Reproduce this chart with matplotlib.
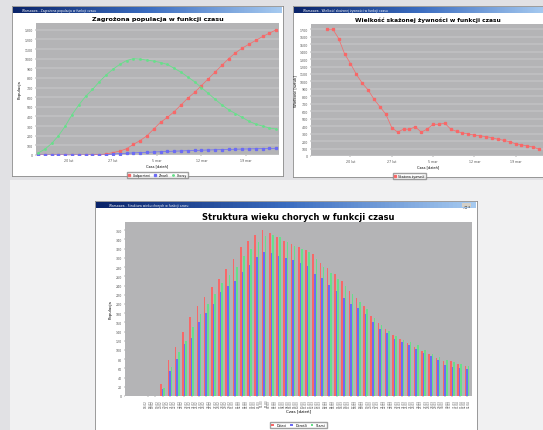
import numpy as np
import matplotlib.pyplot as plt
from matplotlib.colors import LinearSegmentedColormap

W, H = 543, 431

# ---------- data: top-left chart (Zagrozona populacja)
odporni = [0, 0, 0, 0, 0, 0, 0, 0, 2, 5, 10, 25, 40, 65, 110, 150, 200, 270,
           340, 390, 450, 520, 590, 650, 720, 790, 860, 930, 1000, 1060, 1110,
           1150, 1190, 1230, 1265, 1300]
zmarli = [0, 0, 0, 0, 0, 0, 0, 0, 0, 0, 0, 10, 15, 18, 22, 25, 28, 31, 34, 37,
          40, 42, 45, 47, 50, 52, 54, 56, 58, 60, 62, 63, 65, 66, 68, 70]
chorzy = [20, 60, 120, 200, 300, 420, 520, 610, 680, 760, 830, 890, 940, 980,
          1000, 995, 985, 975, 960, 940, 900, 860, 810, 760, 700, 640, 580, 520,
          470, 430, 390, 350, 320, 300, 280, 270]
ticks1 = ["20 lut", "27 lut", "5 mar", "12 mar", "19 mar"]

# ---------- data: top-right chart (Wielkosc skazonej zywnosci)
zywnosc = [1700, 1700, 1575, 1370, 1240, 1095, 975, 885, 760, 660, 560, 380,
           320, 360, 360, 390, 320, 360, 425, 425, 440, 360, 330, 310, 295, 280,
           270, 260, 245, 225, 210, 190, 165, 150, 135, 120, 90]
ticks2 = ["20 lut", "27 lut", "5 mar", "12 mar", "19 mar"]

# ---------- data: bottom chart (Struktura wieku chorych)
kat_start = ["18-02", "19-02", "20-02", "21-02", "22-02", "23-02", "24-02",
             "25-02", "26-02", "27-02", "28-02", "29-02", "01-03", "02-03",
             "03-03", "04-03", "05-03", "06-03", "07-03", "08-03", "09-03",
             "10-03", "11-03", "12-03", "13-03", "14-03", "15-03", "16-03",
             "17-03", "18-03", "19-03", "20-03", "21-03", "22-03", "23-03",
             "24-03", "25-03", "26-03", "27-03", "28-03", "29-03", "30-03",
             "31-03", "01-04", "02-04"]
grupa1 = [0, 0, 25, 78, 106, 139, 172, 196, 215, 236, 255, 275, 298, 323, 337,
          349, 360, 354, 345, 337, 330, 324, 318, 309, 290, 277, 265, 250, 229,
          212, 196, 174, 159, 145, 132, 123, 116, 107, 98, 91, 82, 77, 76, 69, 66]
grupa2 = [0, 0, 15, 55, 80, 112, 125, 160, 180, 200, 225, 240, 250, 270, 285,
          302, 312, 310, 305, 300, 296, 290, 282, 266, 256, 242, 228, 212, 200,
          192, 178, 160, 145, 137, 124, 117, 110, 102, 94, 86, 78, 68, 64, 60, 58]
grupa3 = [0, 0, 18, 62, 95, 120, 150, 178, 200, 222, 245, 262, 280, 305, 320,
          335, 348, 350, 345, 335, 326, 320, 312, 298, 280, 268, 255, 240, 222,
          205, 188, 170, 155, 142, 130, 122, 118, 110, 100, 92, 85, 78, 74, 70, 65]

RED, BLUE, GREEN = "#f86868", "#6c6cf4", "#66e08a"
PLOT_BG = "#b4b4b6"


def box(x0, y0, x1, y1):
    return [x0 / W, 1 - y1 / H, (x1 - x0) / W, (y1 - y0) / H]


fig = plt.figure(figsize=(W / 100, H / 100), dpi=100)
fig.patch.set_facecolor("#e1e1e4")
bg = fig.add_axes(box(10, 181, W, H))
bg.set_facecolor("#f1f1f2")
bg.set_xticks([])
bg.set_yticks([])
for s in bg.spines.values():
    s.set_visible(False)

bar_cmap = LinearSegmentedColormap.from_list("tb", ["#0a246a", "#3a6cc0", "#a6caf0"])


def window(x0, y0, x1, y1, caption, buttons=True):
    win = fig.add_axes(box(x0, y0, x1, y1))
    win.set_facecolor("white")
    win.set_xticks([])
    win.set_yticks([])
    for s in win.spines.values():
        s.set_color("#8a8a8a")
        s.set_linewidth(0.6)
    tb = fig.add_axes(box(x0 + 1, y0 + 1, x1 - 1, y0 + 7))
    tb.imshow(np.linspace(0, 1, 100)[None, :], aspect="auto", cmap=bar_cmap)
    tb.axis("off")
    tb.text(0.035, 0.5, caption, transform=tb.transAxes, color="white",
            fontsize=2.2, va="center")
    if buttons:
        tb.text(0.985, 0.5, "_ \u25a1 x", transform=tb.transAxes, color="#333333",
                fontsize=2.2, va="center", ha="right",
                bbox=dict(facecolor="#d4d0c8", edgecolor="none", pad=0.3))


def style(ax, title, ylabel, tsize):
    ax.set_facecolor(PLOT_BG)
    for s in ax.spines.values():
        s.set_visible(False)
    ax.grid(True, axis="y", color="white", linewidth=0.3, alpha=0.7)
    ax.set_axisbelow(True)
    ax.tick_params(labelsize=2.3, length=1, width=0.3, colors="#555555", pad=1)
    ax.set_title(title, fontsize=tsize, fontweight="bold", pad=2)
    ax.set_ylabel(ylabel, fontsize=2.8, labelpad=2)


# ---------- window 1
window(12, 7, 283, 177, "Warszawa - Zagro\u017cona populacja w funkcji czasu", False)
ax1 = fig.add_axes(box(36, 24, 279, 156))
x1 = np.arange(len(odporni))
ax1.plot(x1, odporni, color=RED, lw=0.5, marker="s", ms=1.4, label="Uodpornieni")
ax1.plot(x1, zmarli, color=BLUE, lw=0.5, marker="s", ms=1.4, label="Zmarli")
ax1.plot(x1, chorzy, color=GREEN, lw=0.6, marker="s", ms=0.9, label="Chorzy")
ax1.set_xlim(-0.3, len(odporni) - 0.6)
ax1.set_ylim(0, 1370)
ax1.set_yticks(np.arange(0, 1301, 100))
ax1.set_xticks([4.5, 11, 17.5, 24, 30.5])
ax1.set_xticklabels(ticks1)
style(ax1, "Zagro\u017cona populacja w funkcji czasu", "Populacja", 4.6)
ax1.set_xlabel("Czas [dzie\u0144]", fontsize=2.6, labelpad=1)
ax1.legend(loc="upper center", bbox_to_anchor=(0.5, -0.12), ncol=3, fontsize=2.2,
           frameon=True, fancybox=False, edgecolor="#888888", handlelength=0.8,
           borderpad=0.3, columnspacing=1.0, markerscale=1.0)

# ---------- window 2
window(293, 7, 546, 178, "Warszawa - Wielko\u015b\u0107 ska\u017conej \u017cywno\u015bci w funkcji czasu", False)
ax2 = fig.add_axes(box(311, 25, 545, 157))
x2 = np.arange(len(zywnosc))
ax2.plot(x2, zywnosc, color=RED, lw=0.5, marker="s", ms=1.4, label="Ska\u017cona \u017cywno\u015b\u0107")
ax2.set_xlim(-2.7, 37)
ax2.set_ylim(0, 1770)
ax2.set_yticks(np.arange(0, 1701, 100))
ax2.set_xticks([4, 11, 18, 25, 32])
ax2.set_xticklabels(ticks2)
style(ax2, "Wielko\u015b\u0107 ska\u017conej \u017cywno\u015bci w funkcji czasu", "Wielko\u015b\u0107 [sztuk]", 4.2)
ax2.set_xlabel("Czas [dzie\u0144]", fontsize=2.6, labelpad=1)
ax2.legend(loc="upper center", bbox_to_anchor=(0.42, -0.12), fontsize=2.2,
           frameon=True, fancybox=False, edgecolor="#888888", handlelength=0.8,
           borderpad=0.3)

# ---------- window 3
window(95, 202, 477, 434, "Warszawa - Struktura wieku chorych w funkcji czasu")
ax3 = fig.add_axes(box(125, 223, 472, 397))
k = np.arange(len(grupa1))
bw = 0.22
ax3.bar(k - bw, grupa1, bw, color=RED, label="Dzieci")
ax3.bar(k, grupa2, bw, color=BLUE, label="Doro\u015bli")
ax3.bar(k + bw, grupa3, bw, color=GREEN, label="Starsi")
ax3.set_xlim(-3.2, len(grupa1) - 0.3)
ax3.set_ylim(0, 378)
ax3.set_yticks(np.arange(0, 361, 20))
ax3.set_xticks(k)
ax3.set_xticklabels([s + "\n" + s for s in kat_start], rotation=90)
style(ax3, "Struktura wieku chorych w funkcji czasu", "Populacja", 6)
ax3.grid(False)
ax3.tick_params(axis="x", labelsize=2.0)
ax3.set_xlabel("Czas [dzie\u0144]", fontsize=3, labelpad=1.5)
ax3.legend(loc="upper center", bbox_to_anchor=(0.5, -0.14), ncol=3, fontsize=2.4,
           frameon=True, fancybox=False, edgecolor="#888888", handlelength=0.8,
           borderpad=0.3, columnspacing=1.0)

fig.savefig("out.png", dpi=100, facecolor=fig.get_facecolor())
